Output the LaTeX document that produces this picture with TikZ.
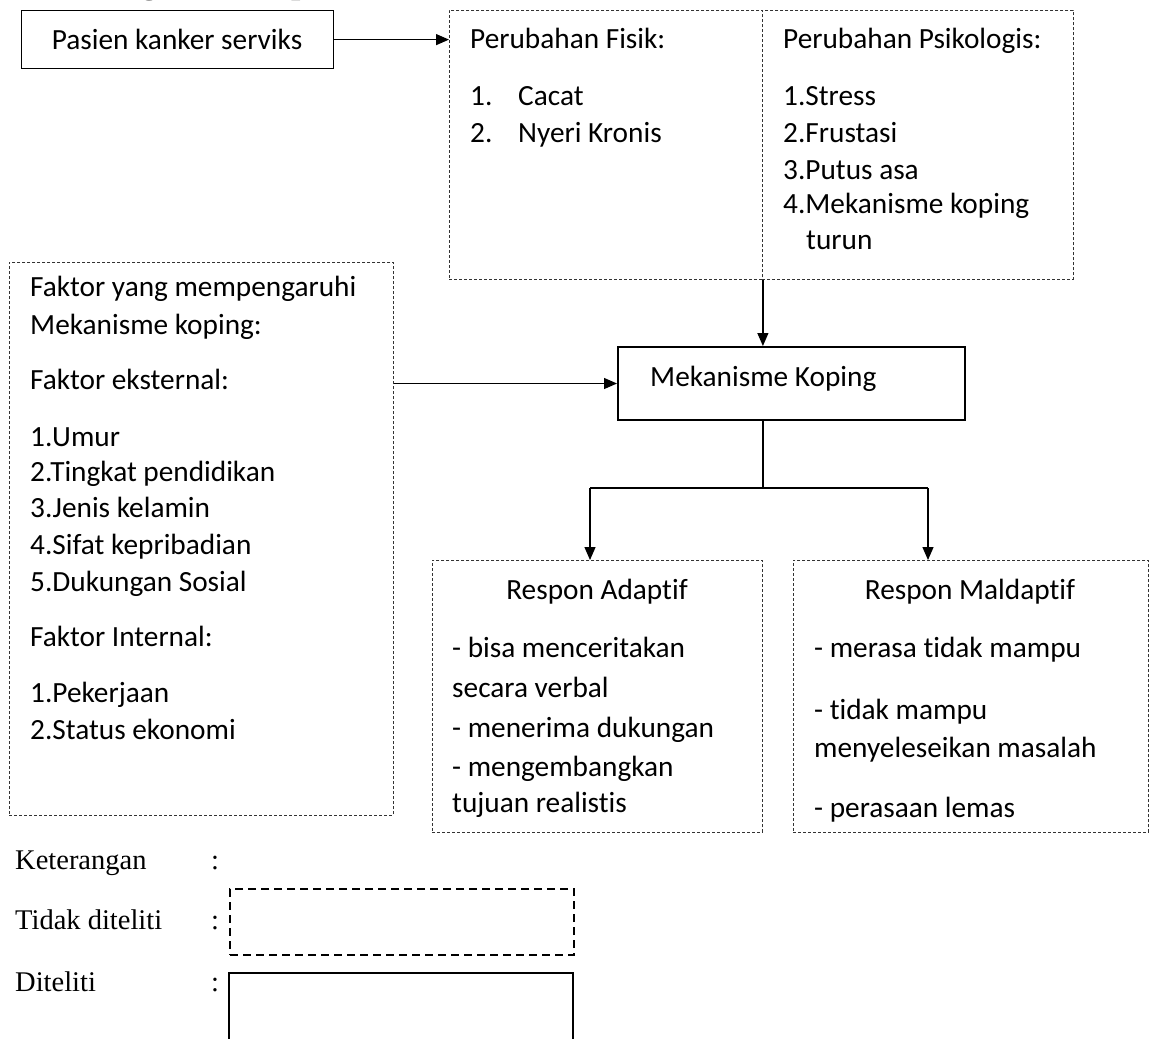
\documentclass[tikz,border=0pt]{standalone}
\usepackage{fontspec}
\setmainfont{Liberation Serif}
\newfontfamily\calfont[Ligatures=NoCommon]{Carlito}
\usetikzlibrary{arrows.meta}
\tikzset{
 cal/.style={font=\calfont\fontsize{29.3}{36}\selectfont, inner sep=0pt, anchor=base west},
 tms/.style={font=\fontsize{28.5}{36}\selectfont, inner sep=0pt, anchor=base west},
 dbox/.style={draw=black!80, line width=0.9pt, dash pattern=on 3pt off 2pt, inner sep=0pt, anchor=north west},
 sbox/.style={draw, line width=1.2pt, inner sep=0pt, anchor=north west},
 conn/.style={line width=1.2pt},
 arr/.style={conn, -{Triangle[length=13pt,width=11pt]}},
}
\begin{document}
\begin{tikzpicture}[x=1pt,y=-1pt]
\useasboundingbox (0,0) rectangle (1157,1039);
\begin{scope}
\clip (0,0) rectangle (1157,1039);
\node[font=\bfseries\fontsize{33.5}{40}\selectfont, inner sep=0pt, anchor=base west] (head) at (50,-7) {Kerangka Konsep};
\end{scope}

% boxes
\node[sbox, minimum width=312pt, minimum height=58pt] (pasien) at (21,10) {};
\node[dbox, minimum width=313pt, minimum height=269pt] (fisik) at (449,10) {};
\node[dbox, minimum width=311pt, minimum height=269pt] (psiko) at (762,10) {};
\node[sbox, line width=2pt, minimum width=347pt, minimum height=73pt] (mek) at (617,346) {};
\node[dbox, minimum width=384pt, minimum height=553pt] (faktor) at (9,262) {};
\node[dbox, minimum width=330pt, minimum height=272pt] (adapt) at (432,560) {};
\node[dbox, minimum width=355pt, minimum height=272pt] (mal) at (793,560) {};

% texts
\node[cal, anchor=base] (pasienT) at (177,49) {Pasien kanker serviks};
\node[cal] (mekT) at (650,386) {Mekanisme Koping};

\node[cal] (fh) at (470,48) {Perubahan Fisik:};
\node[cal] (f1) at (470,105) {\makebox[48pt][l]{1.}Cacat};
\node[cal] (f2) at (470,142) {\makebox[48pt][l]{2.}Nyeri Kronis};

\node[cal] (ph) at (783,48) {Perubahan Psikologis:};
\node[cal] (p1) at (783,105) {1.Stress};
\node[cal] (p2) at (783,142) {2.Frustasi};
\node[cal] (p3) at (783,179) {3.Putus asa};
\node[cal] (p4) at (783,213) {4.Mekanisme koping};
\node[cal] (p5) at (806,249) {turun};

\node[cal] (k01) at (30,296) {Faktor yang mempengaruhi};
\node[cal] (k02) at (30,334) {Mekanisme koping:};
\node[cal] (k03) at (30,389) {Faktor eksternal:};
\node[cal] (k04) at (30,446) {1.Umur};
\node[cal] (k05) at (30,481) {2.Tingkat pendidikan};
\node[cal] (k06) at (30,517) {3.Jenis kelamin};
\node[cal] (k07) at (30,554) {4.Sifat kepribadian};
\node[cal] (k08) at (30,591) {5.Dukungan Sosial};
\node[cal] (k09) at (30,646) {Faktor Internal:};
\node[cal] (k10) at (30,702) {1.Pekerjaan};
\node[cal] (k11) at (30,739) {2.Status ekonomi};

\node[cal, anchor=base] (ah) at (597,599) {Respon Adaptif};
\node[cal] (a1) at (452,657) {- bisa menceritakan};
\node[cal] (a2) at (452,697) {secara verbal};
\node[cal] (a3) at (452,737) {- menerima dukungan};
\node[cal] (a4) at (452,776) {- mengembangkan};
\node[cal] (a5) at (452,812) {tujuan realistis};

\node[cal, anchor=base] (mh) at (970,599) {Respon Maldaptif};
\node[cal] (m1) at (814,657) {- merasa tidak mampu};
\node[cal] (m2) at (814,719) {- tidak mampu};
\node[cal] (m3) at (814,757) {menyeleseikan masalah};
\node[cal] (m4) at (814,817) {- perasaan lemas};

% connectors
\draw[arr] (pasien.east) -- (pasien.east -| fisik.west);
\draw[arr] (fisik.south east) -- (fisik.south east |- mek.north);
\draw[arr] (mek.west -| faktor.east) -- (mek.west);
\coordinate (bl) at (590,488);
\coordinate (brr) at (928,488);
\draw[conn] (fisik.south east |- mek.south) -- (fisik.south east |- bl);
\draw[conn] (bl) -- (brr);
\draw[arr] (bl) -- (bl |- adapt.north);
\draw[arr] (brr) -- (brr |- mal.north);

% legend
\node[tms] (lk) at (15,869) {Keterangan};
\node[tms] (lkc) at (211,869) {:};
\node[tms] (lt) at (15,929) {Tidak diteliti};
\node[tms] (ltc) at (211,929) {:};
\node[tms] (ld) at (15,991) {Diteliti};
\node[tms] (ldc) at (211,991) {:};
\node[draw, line width=2pt, dash pattern=on 8pt off 5pt, inner sep=0pt, anchor=north west, minimum width=344pt, minimum height=66pt] (legd) at (229,888) {};
\draw[line width=2pt] (229,1039) |- (573,973) -- (573,1039);
\end{tikzpicture}
\end{document}
